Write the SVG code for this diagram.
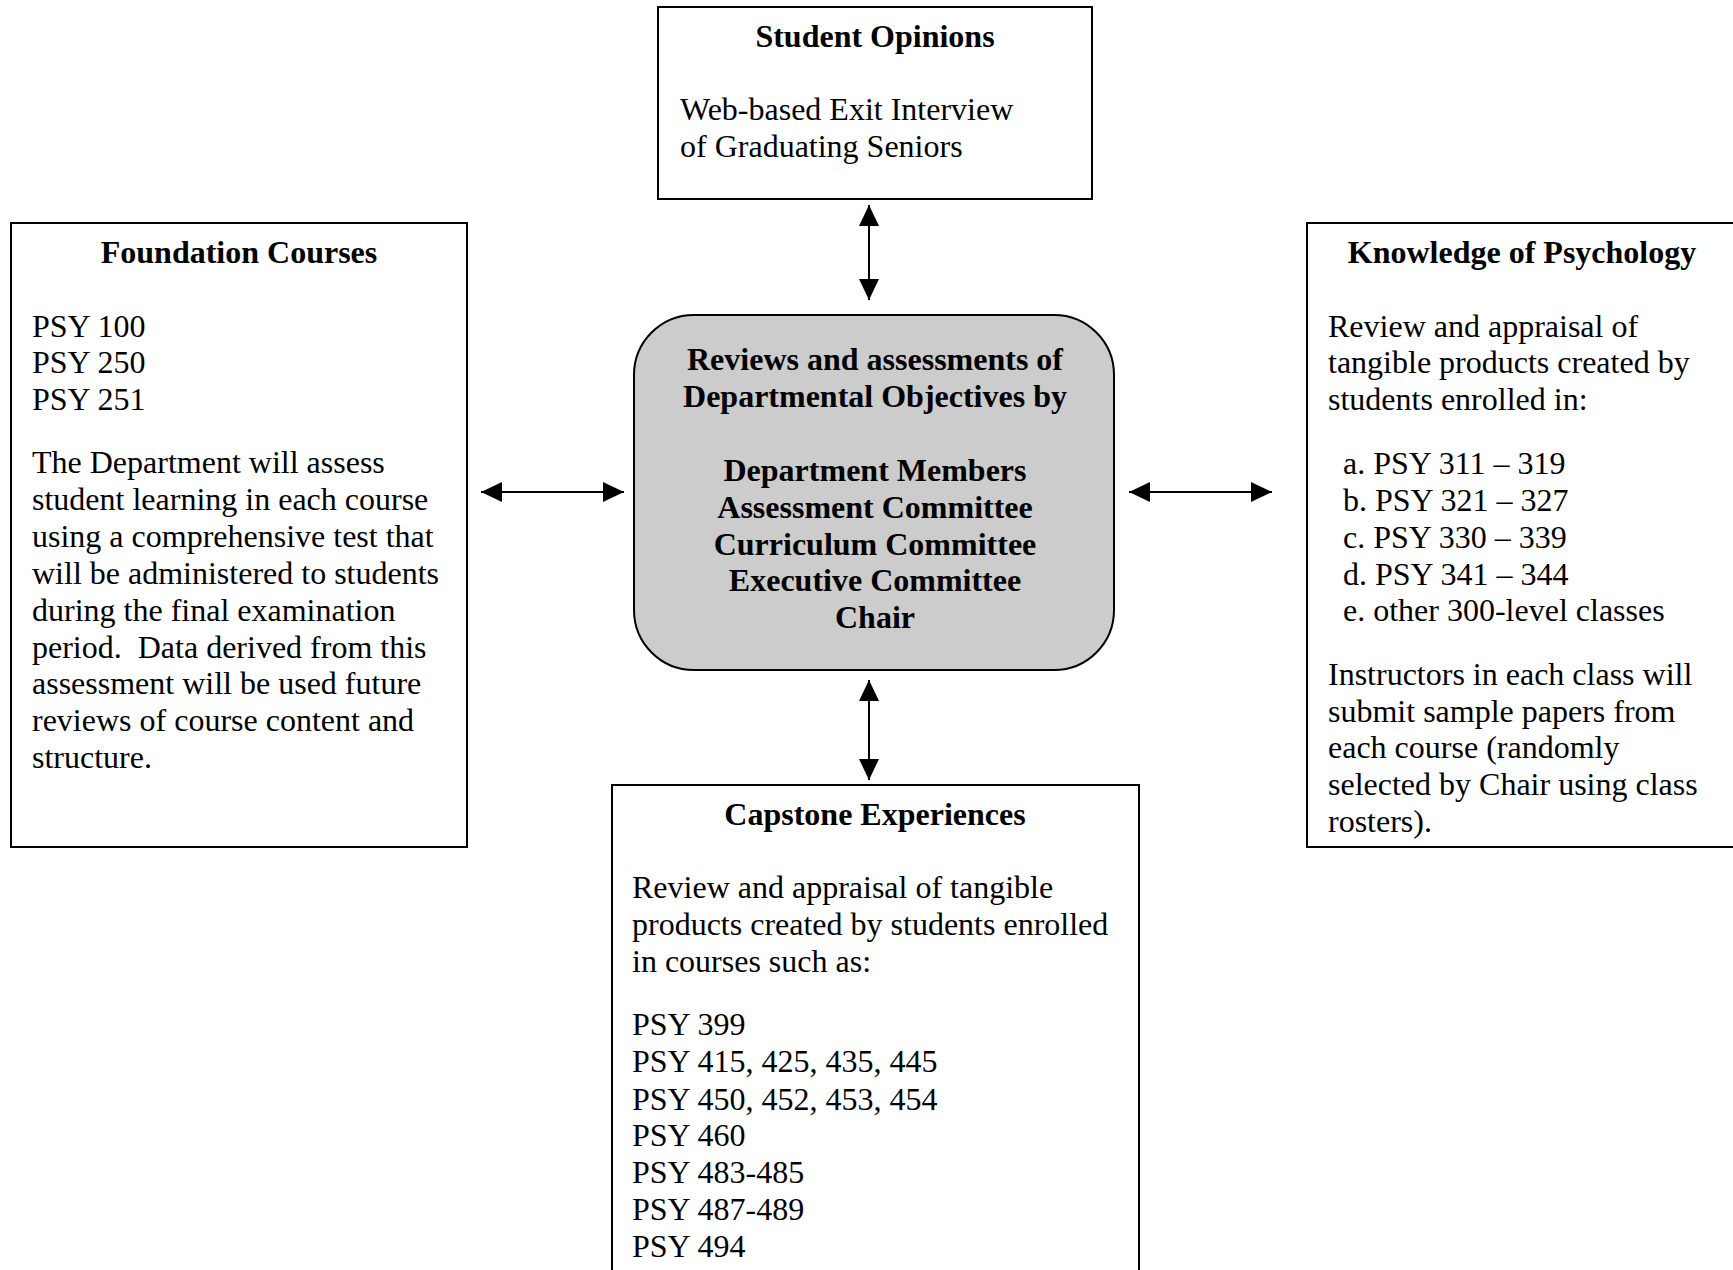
<svg xmlns="http://www.w3.org/2000/svg" width="1733" height="1270" viewBox="0 0 1733 1270">
<defs>
<style>
.box{fill:#ffffff;stroke:#000000;stroke-width:2}
.hub{fill:#cccccc;stroke:#000000;stroke-width:2}
text{font-family:"Liberation Serif","Times New Roman",serif;font-size:32px;fill:#000000}
.t{font-weight:bold;text-anchor:middle}
.c{text-anchor:middle;font-weight:bold}
.conn{stroke:#000000;stroke-width:2;fill:none;marker-start:url(#ah);marker-end:url(#ah)}
</style>
<marker id="ah" markerUnits="userSpaceOnUse" markerWidth="22" markerHeight="20" refX="21" refY="10" orient="auto-start-reverse" viewBox="0 0 22 20">
<path d="M0,0 L21,10 L0,20 z" fill="#000000"/>
</marker>
</defs>
<rect width="1733" height="1270" fill="#ffffff"/>
<g id="student-opinions">
<rect class="box" x="658" y="7" width="434" height="192"/>
<text class="t" x="875" y="47">Student Opinions</text>
<text x="680" y="120">Web-based Exit Interview</text>
<text x="680" y="157">of Graduating Seniors</text>
</g>
<g id="foundation-courses">
<rect class="box" x="11" y="223" width="456" height="624"/>
<text class="t" x="239" y="263">Foundation Courses</text>
<text x="32" y="337">PSY 100</text>
<text x="32" y="373">PSY 250</text>
<text x="32" y="410">PSY 251</text>
<text x="32" y="473">The Department will assess</text>
<text x="32" y="510">student learning in each course</text>
<text x="32" y="547">using a comprehensive test that</text>
<text x="32" y="584">will be administered to students</text>
<text x="32" y="621">during the final examination</text>
<text x="32" y="658" xml:space="preserve">period.  Data derived from this</text>
<text x="32" y="694">assessment will be used future</text>
<text x="32" y="731">reviews of course content and</text>
<text x="32" y="768">structure.</text>
</g>
<g id="knowledge-of-psychology">
<rect class="box" x="1307" y="223" width="440" height="624"/>
<text class="t" x="1522" y="263">Knowledge of Psychology</text>
<text x="1328" y="337">Review and appraisal of</text>
<text x="1328" y="373">tangible products created by</text>
<text x="1328" y="410">students enrolled in:</text>
<text x="1343" y="474">a. PSY 311 – 319</text>
<text x="1343" y="511">b. PSY 321 – 327</text>
<text x="1343" y="548">c. PSY 330 – 339</text>
<text x="1343" y="585">d. PSY 341 – 344</text>
<text x="1343" y="621">e. other 300-level classes</text>
<text x="1328" y="685">Instructors in each class will</text>
<text x="1328" y="722">submit sample papers from</text>
<text x="1328" y="758">each course (randomly</text>
<text x="1328" y="795">selected by Chair using class</text>
<text x="1328" y="832">rosters).</text>
</g>
<g id="departmental-review">
<rect class="hub" x="634" y="315" width="480" height="355" rx="60" ry="60"/>
<text class="c" x="875" y="370">Reviews and assessments of</text>
<text class="c" x="875" y="407">Departmental Objectives by</text>
<text class="c" x="875" y="481">Department Members</text>
<text class="c" x="875" y="518">Assessment Committee</text>
<text class="c" x="875" y="555">Curriculum Committee</text>
<text class="c" x="875" y="591">Executive Committee</text>
<text class="c" x="875" y="628">Chair</text>
</g>
<g id="capstone-experiences">
<rect class="box" x="612" y="785" width="527" height="500"/>
<text class="t" x="875" y="825">Capstone Experiences</text>
<text x="632" y="898">Review and appraisal of tangible</text>
<text x="632" y="935">products created by students enrolled</text>
<text x="632" y="972">in courses such as:</text>
<text x="632" y="1035">PSY 399</text>
<text x="632" y="1072">PSY 415, 425, 435, 445</text>
<text x="632" y="1110">PSY 450, 452, 453, 454</text>
<text x="632" y="1146">PSY 460</text>
<text x="632" y="1183">PSY 483-485</text>
<text x="632" y="1220">PSY 487-489</text>
<text x="632" y="1257">PSY 494</text>
</g>
<g id="connectors">
<line class="conn" x1="869" y1="205" x2="869" y2="300"/>
<line class="conn" x1="869" y1="680" x2="869" y2="780"/>
<line class="conn" x1="481" y1="492" x2="624" y2="492"/>
<line class="conn" x1="1129" y1="492" x2="1272" y2="492"/>
</g>
</svg>
